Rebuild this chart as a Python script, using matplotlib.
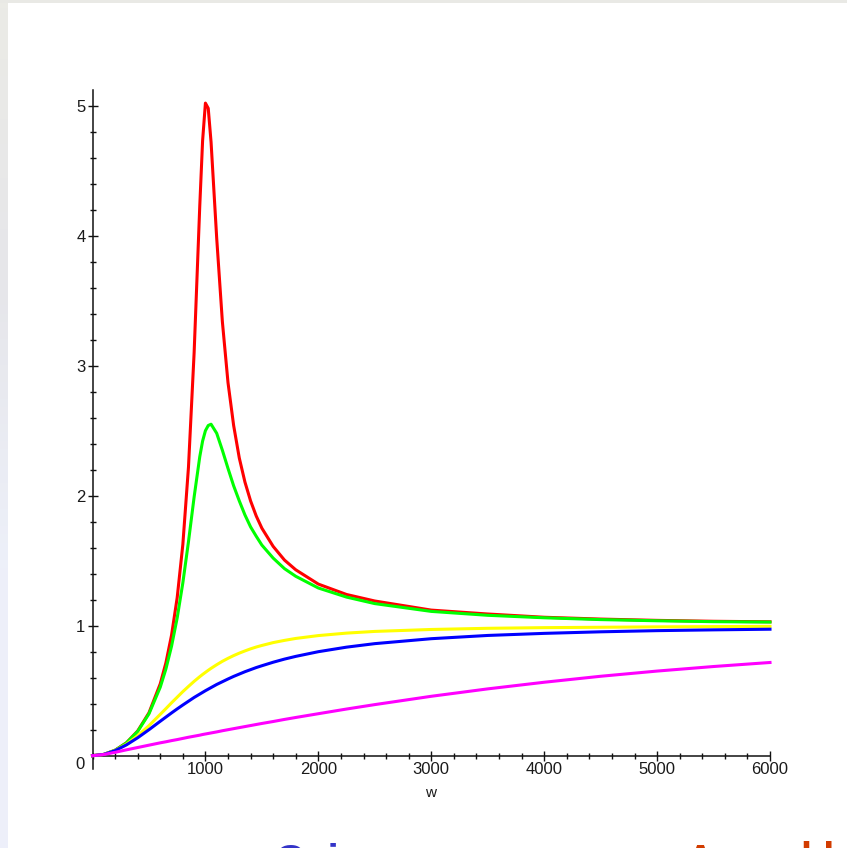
import numpy as np
import matplotlib
matplotlib.use("Agg")
import matplotlib.pyplot as plt
from matplotlib.ticker import FixedLocator, MultipleLocator, NullFormatter
from matplotlib.colors import LinearSegmentedColormap

# ---- data ----
w = [0, 100, 200, 300, 400, 500, 600, 650, 700, 750, 800, 850, 900, 950, 975, 1000, 1025,
     1050, 1100, 1150, 1200, 1250, 1300, 1350, 1400, 1450, 1500, 1600, 1700, 1800, 2000,
     2250, 2500, 3000, 3500, 4000, 4500, 5000, 5500, 6000]

red = [0, 0.010, 0.042, 0.099, 0.190, 0.330, 0.553, 0.714, 0.927, 1.216, 1.624, 2.22,
       3.10, 4.23, 4.73, 5.02, 4.98, 4.72, 3.98, 3.34, 2.87, 2.54, 2.29, 2.105, 1.96,
       1.844, 1.75, 1.61, 1.505, 1.43, 1.32, 1.24, 1.19, 1.12, 1.09, 1.065, 1.051,
       1.041, 1.034, 1.03]
green = [0, 0.010, 0.042, 0.098, 0.187, 0.322, 0.527, 0.667, 0.842, 1.060, 1.329, 1.646,
         1.99, 2.30, 2.42, 2.50, 2.54, 2.55, 2.48, 2.35, 2.21, 2.076, 1.96, 1.852, 1.76,
         1.688, 1.62, 1.52, 1.439, 1.38, 1.29, 1.22, 1.17, 1.11, 1.08, 1.061, 1.047,
         1.038, 1.031, 1.028]
yellow = [0, 0.010, 0.040, 0.088, 0.153, 0.231, 0.318, 0.362, 0.407, 0.450, 0.493, 0.533,
          0.572, 0.608, 0.625, 0.641, 0.657, 0.672, 0.700, 0.726, 0.749, 0.770, 0.789,
          0.806, 0.822, 0.836, 0.848, 0.870, 0.887, 0.902, 0.924, 0.943, 0.956, 0.971,
          0.980, 0.985, 0.988, 0.991, 0.993, 0.995]
blue = [0, 0.010, 0.039, 0.083, 0.138, 0.200, 0.265, 0.297, 0.329, 0.360, 0.390, 0.419,
        0.448, 0.474, 0.487, 0.500, 0.512, 0.524, 0.548, 0.569, 0.590, 0.610, 0.628,
        0.646, 0.662, 0.678, 0.692, 0.719, 0.743, 0.764, 0.800, 0.835, 0.862, 0.900,
        0.925, 0.941, 0.953, 0.962, 0.968, 0.973]
magenta = [0, 0.009, 0.026, 0.045, 0.063, 0.081, 0.099, 0.107, 0.116, 0.124, 0.133, 0.142,
           0.150, 0.158, 0.163, 0.167, 0.171, 0.175, 0.183, 0.192, 0.200, 0.208, 0.216,
           0.224, 0.232, 0.240, 0.248, 0.263, 0.279, 0.294, 0.323, 0.359, 0.393, 0.457,
           0.514, 0.565, 0.611, 0.651, 0.686, 0.717]

series = [(red, "#ff0000"), (green, "#00ff00"), (yellow, "#ffff00"),
          (blue, "#0000ff"), (magenta, "#ff00ff")]

x_major = [1000, 2000, 3000, 4000, 5000, 6000]
x_labels = ["1000", "2000", "3000", "4000", "5000", "6000"]
y_major = [1, 2, 3, 4, 5]
y_labels = ["1", "2", "3", "4", "5"]

W, H = 847, 848
fig = plt.figure(figsize=(W / 100, H / 100), dpi=100)
fig.patch.set_facecolor("white")

# background border strips
strip = fig.add_axes([0, 0, 7 / W, 1])
grad = np.linspace(0, 1, 100).reshape(-1, 1)
cm = LinearSegmentedColormap.from_list("bg", ["#edeffa", "#edf0f9", "#e6e6ea", "#ebebe6"])
strip.imshow(grad, aspect="auto", cmap=cm, origin="lower", extent=[0, 1, 0, 1])
strip.axis("off")
top = fig.add_axes([0, 1 - 3 / H, 1, 3 / H])
top.axis("off")
top.add_patch(plt.Rectangle((0, 0), 1, 1, color="#e9e9e5", transform=top.transAxes))

font = "Liberation Sans"
ax = fig.add_axes([92.5 / W, 79.3 / H, 677.5 / W, 678.6 / H])
ax.set_xlim(0, 6000)
ax.set_ylim(-0.1, 5.12)
ax.patch.set_alpha(0)

for vals, col in series:
    ax.plot(w, vals, color=col, lw=2.2, clip_on=False, zorder=3)

for s in ["top", "right"]:
    ax.spines[s].set_visible(False)
ax.spines["bottom"].set_position(("data", 0))
ax.spines["left"].set_position(("data", 0))
for s in ["bottom", "left"]:
    ax.spines[s].set_linewidth(1.1)
    ax.spines[s].set_color("#111111")
    ax.spines[s].set_zorder(2)

ax.xaxis.set_major_locator(FixedLocator(x_major))
ax.set_xticklabels(x_labels)
ax.xaxis.set_minor_locator(MultipleLocator(200))
ax.yaxis.set_major_locator(FixedLocator(y_major))
ax.set_yticklabels(y_labels)
ax.yaxis.set_minor_locator(FixedLocator([v / 5 for v in range(1, 26)]))
ax.xaxis.set_minor_formatter(NullFormatter())
ax.yaxis.set_minor_formatter(NullFormatter())

ax.tick_params(which="major", direction="inout", length=6.5, width=1.0, color="#111111")
ax.tick_params(which="minor", direction="inout", length=4.3, width=1.0, color="#111111")
ax.tick_params(axis="x", which="major", pad=1.0, labelsize=12, labelcolor="#1a1a1a")
ax.tick_params(axis="y", which="major", pad=1.8, labelsize=12, labelcolor="#1a1a1a")
for lab in ax.get_xticklabels() + ax.get_yticklabels():
    lab.set_fontfamily(font)

ax.annotate("0", xy=(0, 0), xytext=(-8, -9), textcoords="offset pixels",
            ha="right", va="center", fontsize=12, family=font, color="#1a1a1a")

fig.text(431 / W, 1 - 793 / H, "w", ha="center", va="center", fontsize=11,
         family=font, color="#1a1a1a")

# heading text cut off by the bottom edge, as in the reference
fig.text(274 / W, (H - 873) / H, "Gain", ha="left", va="baseline", fontsize=29,
         fontweight="bold", family=font, color="#3434c8")
fig.text(686 / W, (H - 873) / H, "A", ha="left", va="baseline", fontsize=29,
         fontweight="bold", family=font, color="#d23c00")
fig.text(801 / W, (H - 871) / H, "l l", ha="left", va="baseline", fontsize=29,
         fontweight="bold", family=font, color="#d23c00")

fig.savefig("out.png", dpi=100)
